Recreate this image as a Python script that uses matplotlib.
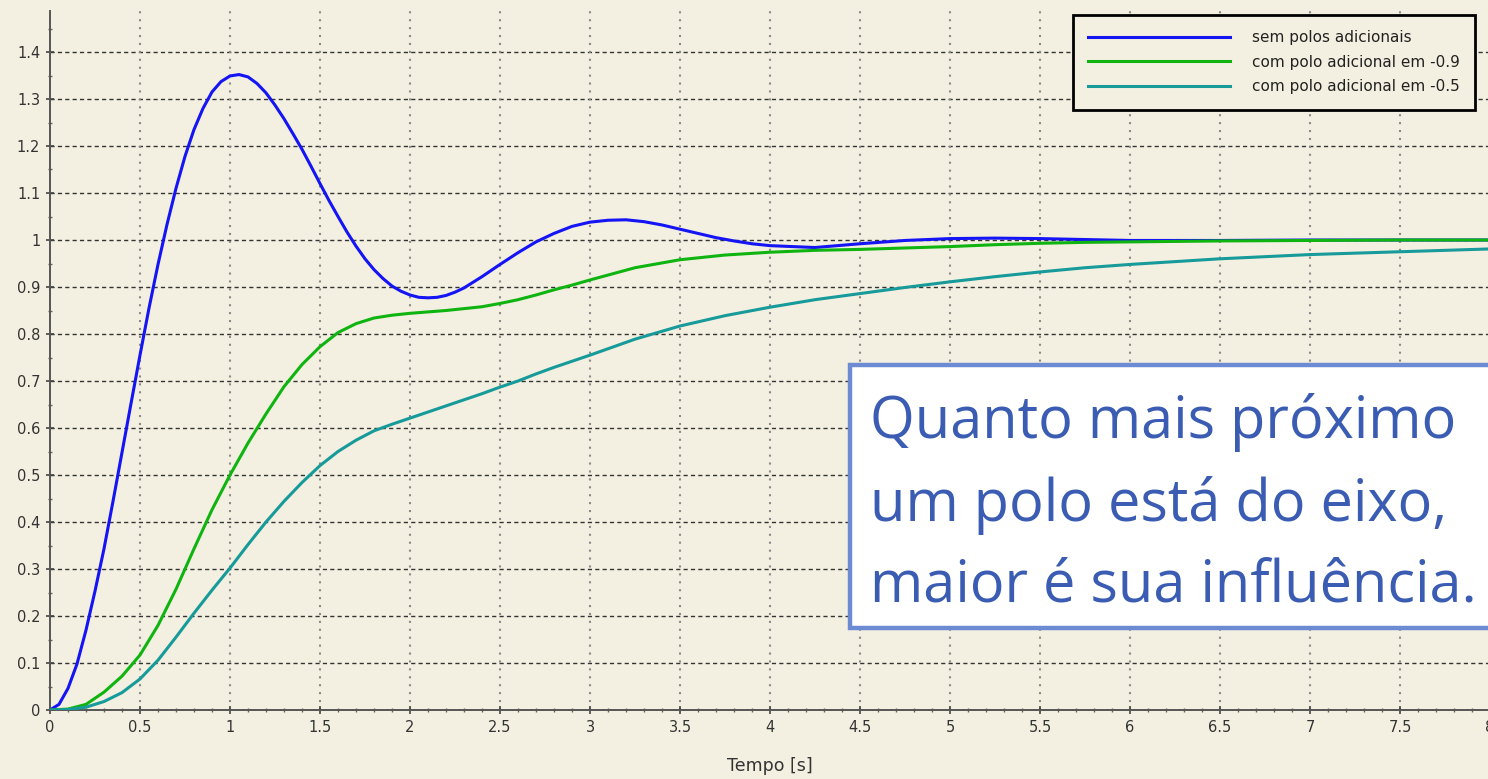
import matplotlib
matplotlib.use("Agg")
import matplotlib.pyplot as plt
from matplotlib.patches import Rectangle
from matplotlib.ticker import MultipleLocator

# ---- data ----
t_fine = [0.0, 0.05, 0.1, 0.15, 0.2, 0.25, 0.3, 0.35, 0.4, 0.45, 0.5, 0.55, 0.6, 0.65, 0.7,
          0.75, 0.8, 0.85, 0.9, 0.95, 1.0, 1.05, 1.1, 1.15, 1.2, 1.25, 1.3, 1.35, 1.4, 1.45,
          1.5, 1.55, 1.6, 1.65, 1.7, 1.75, 1.8, 1.85, 1.9, 1.95, 2.0, 2.05, 2.1, 2.15, 2.2,
          2.25, 2.3, 2.4, 2.5, 2.6, 2.7, 2.8, 2.9, 3.0, 3.1, 3.2, 3.3, 3.4, 3.5, 3.6, 3.7,
          3.8, 3.9, 4.0, 4.25, 4.5, 4.75, 5.0, 5.25, 5.5, 5.75, 6.0, 6.5, 7.0, 8.0]
sem_polos = [0.0, 0.012, 0.046, 0.098, 0.17, 0.253, 0.343, 0.444, 0.548, 0.652, 0.755, 0.855,
             0.948, 1.033, 1.11, 1.178, 1.235, 1.28, 1.315, 1.337, 1.349, 1.352, 1.347, 1.333,
             1.313, 1.287, 1.258, 1.226, 1.193, 1.157, 1.12, 1.084, 1.05, 1.017, 0.987, 0.96,
             0.937, 0.918, 0.902, 0.891, 0.883, 0.878, 0.877, 0.878, 0.882, 0.889, 0.898,
             0.922, 0.948, 0.973, 0.996, 1.014, 1.029, 1.038, 1.042, 1.043, 1.039, 1.032,
             1.023, 1.014, 1.005, 0.998, 0.992, 0.988, 0.984, 0.992, 0.999, 1.003, 1.004,
             1.003, 1.001, 0.999, 0.999, 1.0, 1.0]

t_slow = [0.0, 0.1, 0.2, 0.3, 0.4, 0.5, 0.6, 0.7, 0.8, 0.9, 1.0, 1.1, 1.2, 1.3, 1.4, 1.5,
          1.6, 1.7, 1.8, 1.9, 2.0, 2.1, 2.2, 2.3, 2.4, 2.5, 2.6, 2.7, 2.8, 2.9, 3.0,
          3.25, 3.5, 3.75, 4.0, 4.25, 4.5, 4.75, 5.0, 5.25, 5.5, 5.75, 6.0, 6.5, 7.0, 7.5, 8.0]
polo_09 = [0.0, 0.002, 0.012, 0.038, 0.072, 0.117, 0.18, 0.257, 0.343, 0.426, 0.5, 0.568,
           0.63, 0.688, 0.735, 0.773, 0.803, 0.822, 0.834, 0.84, 0.844, 0.847, 0.85, 0.854,
           0.858, 0.865, 0.873, 0.883, 0.894, 0.904, 0.915, 0.941, 0.958, 0.968, 0.974,
           0.978, 0.98, 0.983, 0.986, 0.99, 0.993, 0.995, 0.996, 0.998, 0.999, 1.0, 1.0]
polo_05 = [0.0, 0.001, 0.006, 0.018, 0.037, 0.066, 0.106, 0.155, 0.206, 0.255, 0.302, 0.352,
           0.40, 0.444, 0.484, 0.52, 0.55, 0.574, 0.594, 0.608, 0.621, 0.634, 0.647, 0.66,
           0.673, 0.687, 0.70, 0.715, 0.729, 0.742, 0.755, 0.789, 0.817, 0.839, 0.857,
           0.873, 0.886, 0.899, 0.911, 0.922, 0.932, 0.941, 0.948, 0.960, 0.969, 0.975, 0.981]

labels = ["sem polos adicionais", "com polo adicional em -0.9", "com polo adicional em -0.5"]
colors = ["#1414f5", "#10b410", "#179a9a"]
x_ticks = [0, 0.5, 1, 1.5, 2, 2.5, 3, 3.5, 4, 4.5, 5, 5.5, 6, 6.5, 7, 7.5, 8]
y_ticks = [0, 0.1, 0.2, 0.3, 0.4, 0.5, 0.6, 0.7, 0.8, 0.9, 1, 1.1, 1.2, 1.3, 1.4]
note_lines = ["Quanto mais próximo", "um polo está do eixo,", "maior é sua influência."]

W, H = 1488, 779
bg = "#f3f0e1"
fig = plt.figure(figsize=(W / 100, H / 100), dpi=100, facecolor=bg)
ax = fig.add_axes([50 / W, 69 / H, 1440 / W, 699 / H], facecolor=bg)

ax.plot(t_fine, sem_polos, color=colors[0], lw=2.2, label=labels[0], zorder=3)
ax.plot(t_slow, polo_09, color=colors[1], lw=2.2, label=labels[1], zorder=3)
ax.plot(t_slow, polo_05, color=colors[2], lw=2.2, label=labels[2], zorder=3)

ax.set_xlim(0, 8)
ax.set_ylim(0, 699 / 470)
ax.set_xticks(x_ticks)
ax.set_xticklabels([("%g" % v) for v in x_ticks])
ax.set_yticks(y_ticks)
ax.set_yticklabels([("%g" % v) for v in y_ticks])
ax.xaxis.set_minor_locator(MultipleLocator(0.1))
ax.yaxis.set_minor_locator(MultipleLocator(0.05))
ax.tick_params(which="major", direction="inout", length=6, width=1.2, color="#444444",
               labelsize=10.5, labelcolor="#333333", pad=4)
ax.tick_params(which="minor", direction="inout", length=3, width=1, color="#666666")

for s in ["top", "right"]:
    ax.spines[s].set_visible(False)
for s in ["left", "bottom"]:
    ax.spines[s].set_color("#555555")
    ax.spines[s].set_linewidth(1.4)

ax.grid(False)
for yv in y_ticks[1:]:
    ax.axhline(yv, color="#333333", lw=1.0, ls=(0, (3, 2.3)), zorder=1)
for xv in x_ticks[1:]:
    ax.axvline(xv, color="#8a8a8a", lw=1.5, ls=(0, (1, 2.8)), zorder=1)

ax.set_xlabel("Tempo [s]", fontsize=12.5, color="#333333", labelpad=16)

leg = ax.legend(loc="upper right", bbox_to_anchor=(1475 / W, 1 - 15 / H),
                bbox_transform=fig.transFigure, borderaxespad=0, fontsize=11,
                handlelength=9.3, handletextpad=1.4, labelspacing=0.62,
                borderpad=1.0, fancybox=False, framealpha=1, facecolor=bg,
                edgecolor="black")
leg.get_frame().set_linewidth(2)
for tx in leg.get_texts():
    tx.set_color("#222222")

# text box
rect = Rectangle((850 / W, 1 - 628 / H), 700 / W, (628 - 365) / H, transform=fig.transFigure,
                 facecolor="white", edgecolor="#6d8bd2", lw=3.2, zorder=10)
fig.add_artist(rect)
baselines = [438, 521, 601]
for line, b in zip(note_lines, baselines):
    fig.text(870 / W, 1 - b / H, line, fontsize=41.5, family="Open Sans", color="#3a5cb2",
             va="baseline", ha="left", zorder=11)

fig.savefig("out.png", dpi=100, facecolor=bg)
